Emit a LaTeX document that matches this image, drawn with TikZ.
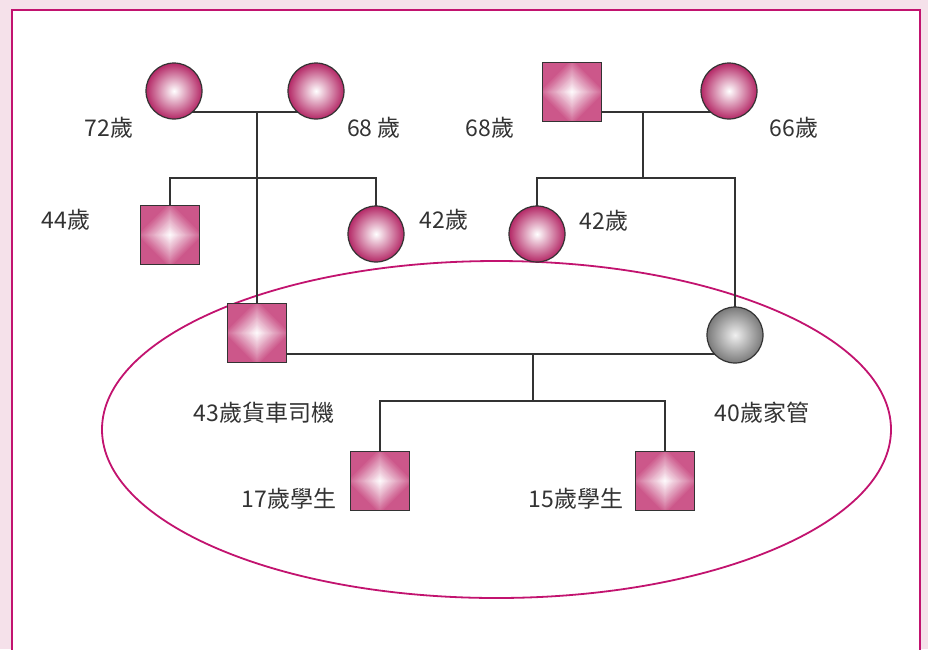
\documentclass[tikz,border=0pt]{standalone}
\usepackage{fontspec}
\setmainfont{Noto Sans CJK TC}
\usetikzlibrary{calc}
\definecolor{framepink}{HTML}{F5E1EA}
\definecolor{framered}{HTML}{C2136F}
\definecolor{ballpink}{HTML}{B42866}
\definecolor{boxpink}{HTML}{CC578A}
\definecolor{ballgrey}{HTML}{7A7A7A}
\definecolor{ink}{HTML}{333333}
\tikzset{
  female/.style={circle, draw=ink, line width=1.2pt, minimum size=56pt, inner sep=0pt, outer sep=0pt,
    inner color=white, outer color=ballpink},
  carer/.style={female, inner color=gray!12, outer color=ballgrey},
  male/.style={rectangle, draw=ink, line width=1.2pt, minimum size=59pt, inner sep=0pt, outer sep=0pt,
    path picture={
      \fill[boxpink] (path picture bounding box.south west) rectangle (path picture bounding box.north east);
      \foreach \k in {0,...,24}{
        \pgfmathsetmacro{\dd}{34*(24-\k)/24}
        \pgfmathtruncatemacro{\pc}{100*(24-\k)/24}
        \fill[boxpink!\pc!white]
          ($(path picture bounding box.center)+(\dd pt,0pt)$) --
          ($(path picture bounding box.center)+(0pt,\dd pt)$) --
          ($(path picture bounding box.center)+(-\dd pt,0pt)$) --
          ($(path picture bounding box.center)+(0pt,-\dd pt)$) -- cycle;
      }}},
  age/.style={text=ink, font=\fontsize{23}{26}\selectfont, inner sep=0pt},
  tie/.style={draw=ink, line width=1.3pt},
}
\begin{document}
\begin{tikzpicture}[x=1pt, y=-1pt]
    \useasboundingbox (0,0) rectangle (928,649);
    \clip (0,0) rectangle (928,649);
    \fill[framepink] (0,0) rectangle (928,649);
    \filldraw[fill=white, draw=framered, line width=2.8pt] (12,10) rectangle (920,680);

    \draw[framered, line width=1.8pt] (496.5,429.5) ellipse [x radius=394.5pt, y radius=168.5pt];

    \node[female] (gmL) at (174,91) {};
    \node[female] (gfL) at (316,91) {};
    \node[male] (gfR) at (572,92) {};
    \node[female] (gmR) at (729,91) {};

    \node[male] (u44) at (170,235) {};
    \node[female] (a42) at (376,234) {};
    \node[female] (m42) at (537,234) {};

    \node[male] (dad) at (257,333) {};
    \node[carer] (mom) at (735,335) {};

    \node[male] (k17) at (380,481) {};
    \node[male] (k15) at (665,481) {};

    \coordinate (m1) at (dad.north |- gmL.-49);
    \coordinate (sib1) at (257,178);
    \coordinate (m2) at (643,0 |- gmR.-131);
    \coordinate (sib2) at (643,178);
    \coordinate (m3) at (533,0 |- mom.-137);
    \coordinate (kids) at (533,401);

    \draw[tie] (gmL.-49) -- (gfL.-131);
    \draw[tie] (m1) -- (dad.north);
    \draw[tie] (u44.north) |- (sib1) -| (a42.north);

    \draw[tie] (gfR.east |- m2) -- (gmR.-131);
    \draw[tie] (m2) -- (sib2);
    \draw[tie] (m42.north) |- (sib2) -| (mom.north);

    \draw[tie] (dad.east |- m3) -- (mom.-137);
    \draw[tie] (m3) -- (kids);
    \draw[tie] (k17.north) |- (kids) -| (k15.north);

    \node[age] (l72) at (109,128) {72歲};
    \node[age] (l68a) at (374,128) {68 歲};
    \node[age] (l68b) at (490,128) {68歲};
    \node[age] (l66) at (794,128) {66歲};
    \node[age] (l44) at (66,220) {44歲};
    \node[age] (l42a) at (444,220) {42歲};
    \node[age] (l42b) at (604,221) {42歲};
    \node[age] (l43) at (264,413) {43歲貨車司機};
    \node[age] (l40) at (762,413) {40歲家管};
    \node[age] (l17) at (289,499) {17歲學生};
    \node[age] (l15) at (576,499) {15歲學生};
\end{tikzpicture}
\end{document}
